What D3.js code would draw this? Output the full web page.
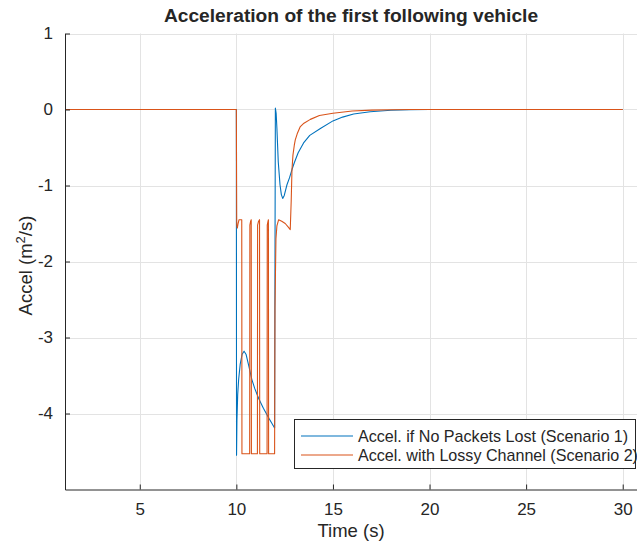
<!DOCTYPE html>
<html>
<head>
<meta charset="utf-8">
<script src="https://cdn.jsdelivr.net/npm/d3@7"></script>
<style>
  html, body { margin: 0; padding: 0; background: #fff; }
  svg { display: block; }
  text { font-family: "Liberation Sans", Arial, Helvetica, sans-serif; fill: #262626; }
</style>
</head>
<body>
<script>
// ---- data ----
const title = "Acceleration of the first following vehicle";
const xLabel = "Time (s)";
const seriesNames = ["Accel. if No Packets Lost (Scenario 1)", "Accel. with Lossy Channel (Scenario 2)"];
const seriesColors = ["#0072BD", "#D95319"];
const xTicks = [5, 10, 15, 20, 25, 30];
const yTicks = [-4, -3, -2, -1, 0, 1];
const xDomain = [1.13, 30.74];
const yDomain = [-5, 1];

// Scenario 1: time, acceleration
const blueT = [0, 10.0, 10.01, 10.03, 10.07, 10.12, 10.2, 10.3, 10.4, 10.5, 10.65, 10.8, 10.95, 11.15, 11.4, 11.7, 11.98,
  12.0, 12.02, 12.06, 12.1, 12.17, 12.26, 12.33, 12.4, 12.48, 12.62, 12.75, 12.88, 13.0, 13.2, 13.48, 13.8, 14.35, 15,
  15.5, 16.07, 16.93, 18, 19, 20, 30];
const blueA = [0, 0, -4.55, -4.1, -3.75, -3.55, -3.35, -3.22, -3.18, -3.22, -3.38, -3.55, -3.67, -3.8, -3.93, -4.07, -4.19,
  -2.0, 0.02, -0.05, -0.25, -0.69, -0.99, -1.12, -1.17, -1.13, -0.99, -0.9, -0.79, -0.7, -0.57, -0.44, -0.34, -0.25, -0.15,
  -0.1, -0.06, -0.03, -0.01, -0.003, 0, 0];

// Scenario 2: time, acceleration
const redT = [0, 10.0, 10.02, 10.05, 10.09, 10.14, 10.28, 10.29, 10.69, 10.70, 10.74, 10.77, 10.78, 11.09, 11.10, 11.15,
  11.20, 11.21, 11.59, 11.60, 11.64, 11.66, 11.67, 11.98, 12.0, 12.05, 12.1, 12.19, 12.35, 12.53, 12.7, 12.79, 12.84,
  12.88, 12.93, 13.0, 13.05, 13.15, 13.3, 13.5, 13.83, 14.3, 15, 16, 17, 18, 19, 30];
const redA = [0, 0, -1.52, -1.56, -1.5, -1.45, -1.45, -4.53, -4.53, -1.52, -1.47, -1.45, -4.53, -4.53, -1.52, -1.47,
  -1.45, -4.53, -4.53, -1.52, -1.47, -1.45, -4.53, -4.53, -2.6, -1.7, -1.53, -1.45, -1.47, -1.5, -1.55, -1.58, -1.2,
  -0.79, -0.6, -0.47, -0.4, -0.32, -0.23, -0.18, -0.13, -0.08, -0.05, -0.02, -0.008, -0.003, 0, 0];

// ---- layout ----
const W = 637, H = 552;
const L = 65, R = 637, T = 33.5, B = 489.5;

const svg = d3.select("body").append("svg").attr("width", W).attr("height", H);

const x = d3.scaleLinear().domain(xDomain).range([L, R]);
const y = d3.scaleLinear().domain(yDomain).range([B, T]);

// grid
const grid = svg.append("g").attr("stroke", "#e3e3e3").attr("stroke-width", 1);
grid.selectAll("line.gx").data(xTicks).join("line")
  .attr("x1", d => Math.round(x(d)) + 0.5).attr("x2", d => Math.round(x(d)) + 0.5)
  .attr("y1", T).attr("y2", B);
grid.selectAll("line.gy").data(yTicks).join("line")
  .attr("x1", L).attr("x2", R)
  .attr("y1", d => Math.round(y(d)) + 0.5).attr("y2", d => Math.round(y(d)) + 0.5);

// clip
svg.append("clipPath").attr("id", "clip").append("rect")
  .attr("x", L).attr("y", T - 2).attr("width", R - L).attr("height", B - T + 2);

const line = d3.line().x(d => x(d[0])).y(d => y(d[1]));
const series = [d3.zip(blueT, blueA), d3.zip(redT, redA)];
svg.append("g").attr("clip-path", "url(#clip)")
  .selectAll("path").data(series).join("path")
  .attr("d", line).attr("fill", "none")
  .attr("stroke", (d, i) => seriesColors[i]).attr("stroke-width", 1.1)
  .attr("stroke-linejoin", "round");

// axes
const fmt = d => String(d);
const xAxis = d3.axisBottom(x).tickValues(xTicks).tickFormat(fmt).tickSizeInner(-5).tickSizeOuter(0).tickPadding(13);
const yAxis = d3.axisLeft(y).tickValues(yTicks).tickFormat(fmt).tickSizeInner(-5).tickSizeOuter(0).tickPadding(12);

const gx = svg.append("g").attr("transform", `translate(0,${B})`).call(xAxis);
const gy = svg.append("g").attr("transform", `translate(${L},0)`).call(yAxis);
[gx, gy].forEach(g => {
  g.select(".domain").attr("stroke", "#262626");
  g.selectAll(".tick line").attr("stroke", "#262626");
  g.selectAll(".tick text").attr("fill", "#262626").style("font-size", "17px")
    .style("font-family", "'Liberation Sans', Arial, sans-serif");
});

// labels
svg.append("text").attr("x", (L + R) / 2).attr("y", 22).attr("text-anchor", "middle")
  .style("font-size", "19.2px").style("font-weight", "bold").attr("fill", "#000").text(title);

svg.append("text").attr("x", (L + R) / 2).attr("y", 537).attr("text-anchor", "middle")
  .style("font-size", "18.5px").text(xLabel);

const yl = svg.append("text").attr("transform", `translate(32,${(T + B) / 2 + 4}) rotate(-90)`)
  .attr("text-anchor", "middle").style("font-size", "18.5px");
yl.append("tspan").text("Accel (m");
yl.append("tspan").attr("baseline-shift", "super").style("font-size", "13px").text("2");
yl.append("tspan").text("/s)");

// legend
const lg = svg.append("g");
lg.append("rect").attr("x", 294.5).attr("y", 419.5).attr("width", 341).attr("height", 49)
  .attr("fill", "#fff").attr("stroke", "#262626").attr("stroke-width", 1);
seriesNames.forEach((name, i) => {
  const cy = 436 + i * 19;
  lg.append("line").attr("x1", 301).attr("x2", 353).attr("y1", cy).attr("y2", cy)
    .attr("stroke", seriesColors[i]).attr("stroke-width", 1.1);
  lg.append("text").attr("x", 358).attr("y", cy).attr("dy", "0.35em")
    .style("font-size", "16.1px").attr("fill", "#000").text(name);
});
</script>
</body>
</html>
